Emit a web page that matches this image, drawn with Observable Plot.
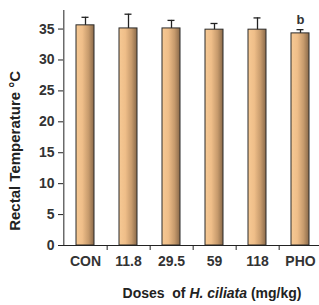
<!DOCTYPE html>
<html>
<head>
<meta charset="utf-8">
<script src="https://cdn.jsdelivr.net/npm/d3@7"></script>
<script src="https://cdn.jsdelivr.net/npm/@observablehq/plot@0.6"></script>
<style>
  html, body { margin: 0; padding: 0; background: #fff; }
  #chart { width: 319px; height: 305px; overflow: hidden; }
</style>
</head>
<body>
<div id="chart"></div>
<script>
const doses = ["CON", "11.8", "29.5", "59", "118", "PHO"];
const means = [35.6, 35.1, 35.1, 34.9, 34.9, 34.3];
const errors = [1.3, 2.3, 1.3, 1.0, 1.9, 0.6];
const letters = ["", "", "", "", "", "b"];
const yTicks = [0, 5, 10, 15, 20, 25, 30, 35];

const data = doses.map((d, i) => ({dose: d, mean: means[i], err: errors[i], upper: means[i] + errors[i], letter: letters[i]}));

const W = 319, H = 305;
const left = 63, right = 323;
const step = (right - left) / 6;

const defs = () => {
  const g = d3.create("svg:defs");
  const lg = g.append("linearGradient").attr("id", "barGrad").attr("x1", "0").attr("x2", "1").attr("y1", "0").attr("y2", "0");
  lg.append("stop").attr("offset", "0%").attr("stop-color", "#f6c994");
  lg.append("stop").attr("offset", "35%").attr("stop-color", "#efbe89");
  lg.append("stop").attr("offset", "70%").attr("stop-color", "#c69a6c");
  lg.append("stop").attr("offset", "100%").attr("stop-color", "#8a6a4a");
  return g.node();
};

const font = "Liberation Sans, Arial, sans-serif";

const plot = Plot.plot({
  width: W,
  height: H,
  marginLeft: left,
  marginTop: 10,
  marginBottom: 60,
  marginRight: 0,
  style: {fontFamily: font, fontSize: "13px", color: "#222", background: "transparent", overflow: "visible"},
  x: {domain: doses, range: [left, right], paddingInner: 0.58, paddingOuter: 0.29, axis: null},
  y: {domain: [0, 38], axis: null},
  marks: [
    defs,
    Plot.barY(data, {x: "dose", y: "mean", fill: "url(#barGrad)", stroke: "#2a2a2a", strokeWidth: 1}),
    Plot.ruleX(data, {x: "dose", y1: "mean", y2: "upper", stroke: "#222", strokeWidth: 1.3}),
    Plot.tickY(data, {x: "dose", y: "upper", stroke: "#222", strokeWidth: 1.3, insetLeft: 5.5, insetRight: 5.5}),
    Plot.text(data, {x: "dose", y: "upper", text: "letter", dy: -10, fontWeight: "bold", fontSize: 13, fill: "#333"}),
    // y axis
    Plot.axisY({ticks: yTicks, tickSize: 5, tickPadding: 4, label: null, fontSize: 14, fontWeight: "bold", fill: "#333"}),
    Plot.ruleX(doses.slice(0, 1), {x: d => d, dx: -step / 2, y1: 0, y2: 38, stroke: "#222"}),
    // x axis
    Plot.ruleY([0], {stroke: "#222"}),
    Plot.axisX({tickSize: 0, tickPadding: 11, label: null, fontSize: 14, fontWeight: "bold", fill: "#333"}),
    Plot.ruleX(doses.slice(0, 5), {x: d => d, dx: step / 2, y1: 0, y2: 0, insetBottom: -5, stroke: "#222"}),
    // y label
    Plot.text(["Rectal Temperature °C"], {frameAnchor: "left", textAnchor: "middle", y: 15.3, dx: -48, rotate: -90, fontWeight: "bold", fontSize: 15, fill: "#222"})
  ]
});

document.getElementById("chart").appendChild(plot);

// x title with italic part
const svg = d3.select(plot);
const t = svg.append("text")
  .attr("x", 212).attr("y", 298)
  .attr("text-anchor", "middle")
  .attr("font-family", font)
  .attr("font-size", 14)
  .attr("font-weight", "bold")
  .attr("fill", "#222")
  .attr("xml:space", "preserve")
  .style("white-space", "pre");
t.append("tspan").text("Doses  of ");
t.append("tspan").attr("font-style", "italic").text("H. ciliata");
t.append("tspan").text(" (mg/kg)");
</script>
</body>
</html>
